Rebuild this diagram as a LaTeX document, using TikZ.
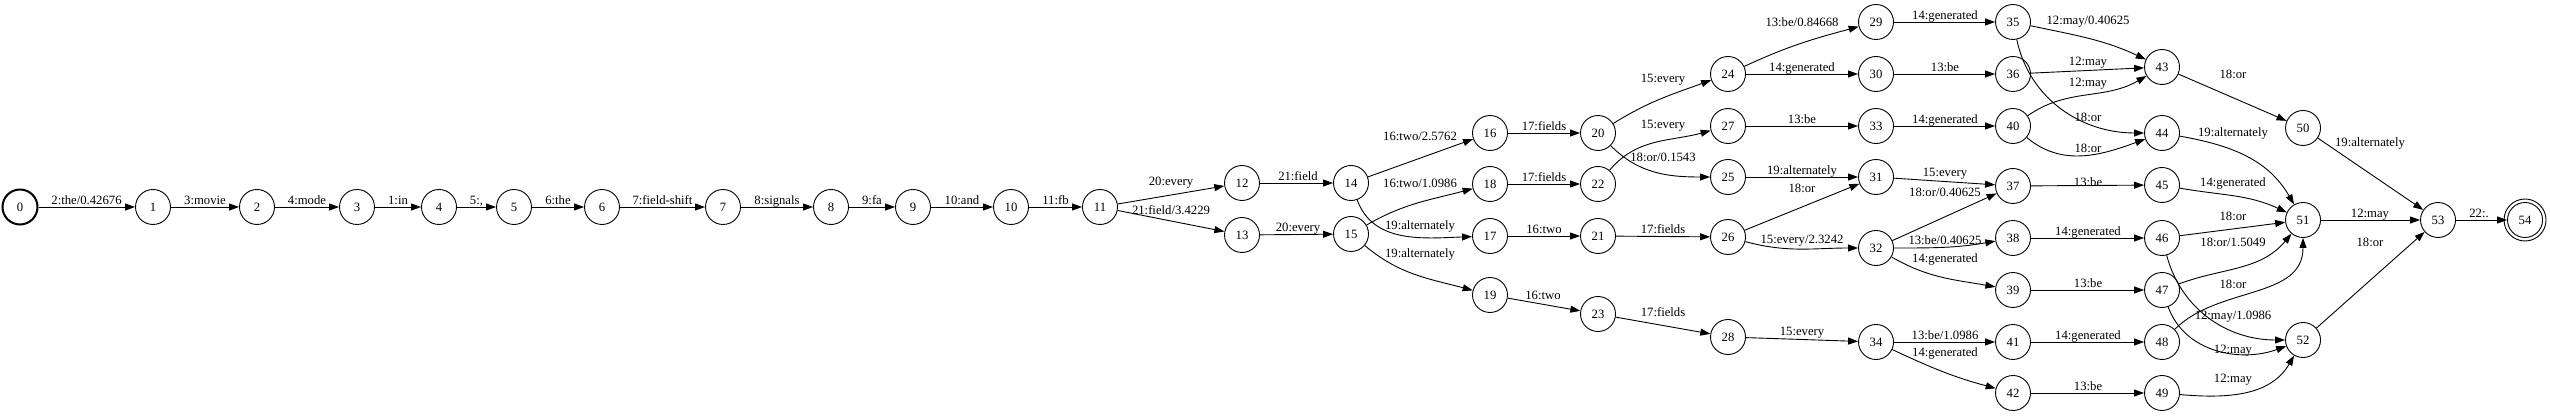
\documentclass[tikz,border=0pt]{standalone}
\usepackage{fontspec}
\setmainfont{Liberation Serif}
\usetikzlibrary{arrows.meta}
\newcommand\lfs{\fontsize{12.7}{15}\selectfont}
\begin{document}
\begin{tikzpicture}[x=1pt,y=1pt,
  st/.style={circle,draw,line width=0.9pt,minimum size=35pt,inner sep=0pt,font=\lfs},
  e/.style={draw,line width=0.9pt,-{Triangle[length=10pt,width=7pt]}},
  lab/.style={anchor=base,inner sep=0pt,font=\lfs}]
\useasboundingbox (0,0) rectangle (2550,415);
% states
\node[st,line width=2pt] (n0) at (20,208) {0};
\node[st] (n1) at (153,208) {1};
\node[st] (n2) at (257,208) {2};
\node[st] (n3) at (357,208) {3};
\node[st] (n4) at (439,208) {4};
\node[st] (n5) at (514,208) {5};
\node[st] (n6) at (602,208) {6};
\node[st] (n7) at (723,208) {7};
\node[st] (n8) at (831,208) {8};
\node[st] (n9) at (913,208) {9};
\node[st] (n10) at (1011,208) {10};
\node[st] (n11) at (1100,208) {11};
\node[st] (n12) at (1242,232) {12};
\node[st] (n13) at (1242,180) {13};
\node[st] (n14) at (1351,232) {14};
\node[st] (n15) at (1351,181) {15};
\node[st] (n16) at (1490,282) {16};
\node[st] (n17) at (1490,179) {17};
\node[st] (n18) at (1490,231) {18};
\node[st] (n19) at (1490,120) {19};
\node[st] (n20) at (1598,282) {20};
\node[st] (n21) at (1598,179) {21};
\node[st] (n22) at (1598,231) {22};
\node[st] (n23) at (1598,101) {23};
\node[st] (n24) at (1728,341) {24};
\node[st] (n25) at (1728,238) {25};
\node[st] (n26) at (1728,178) {26};
\node[st] (n27) at (1728,289) {27};
\node[st] (n28) at (1728,78) {28};
\node[st] (n29) at (1876,393) {29};
\node[st] (n30) at (1876,341) {30};
\node[st] (n31) at (1876,238) {31};
\node[st] (n32) at (1876,167) {32};
\node[st] (n33) at (1876,289) {33};
\node[st] (n34) at (1876,73) {34};
\node[st] (n35) at (2013,393) {35};
\node[st] (n36) at (2013,341) {36};
\node[st] (n37) at (2013,229) {37};
\node[st] (n38) at (2013,177) {38};
\node[st] (n39) at (2013,125) {39};
\node[st] (n40) at (2013,289) {40};
\node[st] (n41) at (2013,73) {41};
\node[st] (n42) at (2013,22) {42};
\node[st] (n43) at (2162,348) {43};
\node[st] (n44) at (2162,282) {44};
\node[st] (n45) at (2162,230) {45};
\node[st] (n46) at (2162,177) {46};
\node[st] (n47) at (2162,125) {47};
\node[st] (n48) at (2162,73) {48};
\node[st] (n49) at (2162,22) {49};
\node[st] (n50) at (2303,287) {50};
\node[st] (n51) at (2303,195) {51};
\node[st] (n52) at (2303,75) {52};
\node[st] (n53) at (2438,195) {53};
\node[st] (n54) at (2525,195) {54};
\draw[line width=0.9pt] (n54.center) circle[radius=21];
% chain
\draw[e] (n0) -- (n1) node[lab] at (86.5,210.5) {2:the/0.42676};
\draw[e] (n1) -- (n2) node[lab] at (205,210.5) {3:movie};
\draw[e] (n2) -- (n3) node[lab] at (307,210.5) {4:mode};
\draw[e] (n3) -- (n4) node[lab] at (398,210.5) {1:in};
\draw[e] (n4) -- (n5) node[lab] at (476.5,210.5) {5:,};
\draw[e] (n5) -- (n6) node[lab] at (558,210.5) {6:the};
\draw[e] (n6) -- (n7) node[lab] at (662.5,210.5) {7:field-shift};
\draw[e] (n7) -- (n8) node[lab] at (777,210.5) {8:signals};
\draw[e] (n8) -- (n9) node[lab] at (872,210.5) {9:fa};
\draw[e] (n9) -- (n10) node[lab] at (962,210.5) {10:and};
\draw[e] (n10) -- (n11) node[lab] at (1055.5,210.5) {11:fb};
% split
\draw[e] (n11) -- (n12) node[lab] at (1171,229.5) {20:every};
\draw[e] (n11) -- (n13) node[lab] at (1171,200) {21:field/3.4229};
\draw[e] (n12) -- (n14) node[lab] at (1298,234.5) {21:field};
\draw[e] (n13) -- (n15) node[lab] at (1298,183) {20:every};
\draw[e] (n14) -- (n16) node[lab] at (1420,274) {16:two/2.5762};
\draw[e] (n14) to[out=-70,in=182] (n17);
\node[lab] at (1420,185) {19:alternately};
\draw[e] (n15) to[out=30,in=195] (n18);
\node[lab] at (1420,227) {16:two/1.0986};
\draw[e] (n15) to[out=-40,in=165] (n19);
\node[lab] at (1420,157) {19:alternately};
\draw[e] (n16) -- (n20) node[lab] at (1544,284.5) {17:fields};
\draw[e] (n18) -- (n22) node[lab] at (1544,233.5) {17:fields};
\draw[e] (n17) -- (n21) node[lab] at (1544,181.5) {16:two};
\draw[e] (n19) -- (n23) node[lab] at (1543,115) {16:two};
\draw[e] (n21) -- (n26) node[lab] at (1663,181.5) {17:fields};
\draw[e] (n23) -- (n28) node[lab] at (1663,98) {17:fields};
\draw[e] (n20) to[out=32,in=200] (n24);
\node[lab] at (1663,332) {15:every};
\draw[e] (n22) to[out=50,in=195] (n27);
\node[lab] at (1663,286) {15:every};
\draw[e] (n20) to[out=-45,in=180] (n25);
\node[lab] at (1663,253) {18:or/0.1543};
\draw[e] (n24) to[out=25,in=195] (n29);
\node[lab] at (1802,388) {13:be/0.84668};
\draw[e] (n24) -- (n30) node[lab] at (1802,343.5) {14:generated};
\draw[e] (n27) -- (n33) node[lab] at (1802,291.5) {13:be};
\draw[e] (n25) -- (n31) node[lab] at (1802,240.5) {19:alternately};
\draw[e] (n26) -- (n31) node[lab] at (1802,222) {18:or};
\draw[e] (n26) to[out=-15,in=180] (n32);
\node[lab] at (1802,171) {15:every/2.3242};
\draw[e] (n28) -- (n34) node[lab] at (1802,79) {15:every};
\draw[e] (n29) -- (n35) node[lab] at (1945,395.5) {14:generated};
\draw[e] (n30) -- (n36) node[lab] at (1945,343.5) {13:be};
\draw[e] (n33) -- (n40) node[lab] at (1945,291.5) {14:generated};
\draw[e] (n31) -- (n37) node[lab] at (1945,238) {15:every};
\draw[e] (n32) -- (n37) node[lab] at (1945,218) {18:or/0.40625};
\draw[e] (n32) to[out=0,in=190] (n38);
\node[lab] at (1945,170) {13:be/0.40625};
\draw[e] (n32) to[out=-30,in=170] (n39);
\node[lab] at (1945,152) {14:generated};
\draw[e] (n34) -- (n41) node[lab] at (1945,75.5) {13:be/1.0986};
\draw[e] (n34) to[out=-25,in=165] (n42);
\node[lab] at (1945,59) {14:generated};
\draw[e] (n35) to[out=-12,in=155] (n43);
\node[lab] at (2088,390) {12:may/0.40625};
\draw[e] (n36) -- (n43) node[lab] at (2088,349) {12:may};
\draw[e] (n40) to[out=35,in=210] (n43);
\node[lab] at (2088,328) {12:may};
\draw[e] (n35) to[out=-78,in=180] (n44);
\node[lab] at (2088,293) {18:or};
\draw[e] (n40) to[out=-40,in=200] (n44);
\node[lab] at (2088,262) {18:or};
\draw[e] (n37) -- (n45) node[lab] at (2088,228) {13:be};
\draw[e] (n38) -- (n46) node[lab] at (2088,179.5) {14:generated};
\draw[e] (n39) -- (n47) node[lab] at (2088,127.5) {13:be};
\draw[e] (n41) -- (n48) node[lab] at (2088,75.5) {14:generated};
\draw[e] (n42) -- (n49) node[lab] at (2088,24.5) {13:be};
\draw[e] (n43) -- (n50) node[lab] at (2233,336) {18:or};
\draw[e] (n44) to[out=-10,in=120] (n51);
\node[lab] at (2233,278) {19:alternately};
\draw[e] (n45) to[out=-10,in=155] (n51);
\node[lab] at (2233,228) {14:generated};
\draw[e] (n46) -- (n51) node[lab] at (2233,194) {18:or};
\draw[e] (n47) to[out=20,in=230] (n51);
\node[lab] at (2233,168) {18:or/1.5049};
\draw[e] (n48) to[out=45,in=-90] (n51);
\node[lab] at (2233,126) {18:or};
\draw[e] (n46) to[out=-75,in=180] (n52);
\node[lab] at (2233,95) {12:may/1.0986};
\draw[e] (n47) to[out=-70,in=200] (n52);
\node[lab] at (2233,61) {12:may};
\draw[e] (n49) to[out=-5,in=240] (n52);
\node[lab] at (2233,33) {12:may};
\draw[e] (n50) -- (n53) node[lab] at (2370,268) {19:alternately};
\draw[e] (n51) -- (n53) node[lab] at (2370,197.5) {12:may};
\draw[e] (n52) -- (n53) node[lab] at (2370,168) {18:or};
\draw[e] (n53) -- (n54) node[lab] at (2479,197.5) {22:.};
\end{tikzpicture}
\end{document}
